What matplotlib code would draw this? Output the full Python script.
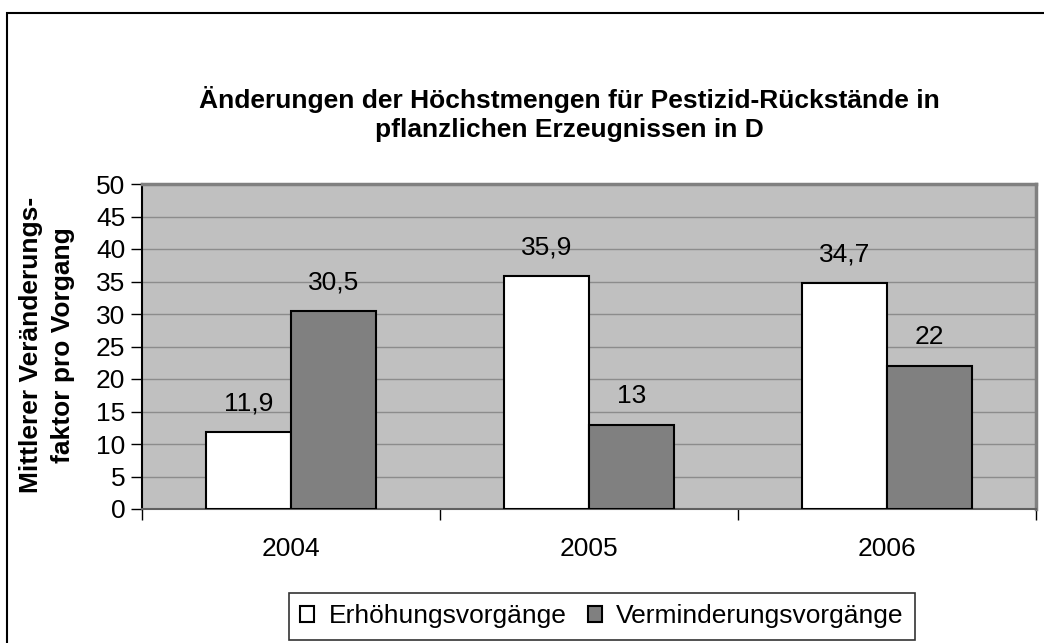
import matplotlib
matplotlib.use("Agg")
import matplotlib.pyplot as plt
from matplotlib.patches import Rectangle
import numpy as np

plt.rcParams['font.family'] = ['Liberation Sans', 'DejaVu Sans']

categories = ["2004", "2005", "2006"]
erhoehung = [11.9, 35.9, 34.7]
verminderung = [30.5, 13.0, 22.0]
labels_e = ["11,9", "35,9", "34,7"]
labels_v = ["30,5", "13", "22"]
yticks = [0, 5, 10, 15, 20, 25, 30, 35, 40, 45, 50]

W, H = 1044, 643
fig = plt.figure(figsize=(W/100, H/100), dpi=100)
fig.patch.set_facecolor("white")

# outer chart frame (right/bottom run off the image)
fig.patches.append(Rectangle((7/W, -0.1), 1.2, 1 - 13/H + 0.1, transform=fig.transFigure,
                             fill=False, edgecolor="black", linewidth=1.5))

left, right, top, bottom = 142, 1036, 184, 509
ax = fig.add_axes([left/W, 1 - bottom/H, (right-left)/W, (bottom-top)/H])
ax.set_facecolor("#C0C0C0")

FS = 19

x = np.arange(len(categories))
bw = 0.285
b1 = ax.bar(x - bw/2, erhoehung, bw, color="white", edgecolor="black", linewidth=1.5,
            label="Erhöhungsvorgänge", zorder=3)
b2 = ax.bar(x + bw/2, verminderung, bw, color="#808080", edgecolor="black", linewidth=1.5,
            label="Verminderungsvorgänge", zorder=3)

for rect, lab in zip(b1, labels_e):
    ax.text(rect.get_x() + rect.get_width()/2, rect.get_height() + 4.4, lab,
            ha="center", va="center", fontsize=FS)
for rect, lab in zip(b2, labels_v):
    ax.text(rect.get_x() + rect.get_width()/2, rect.get_height() + 4.4, lab,
            ha="center", va="center", fontsize=FS)

ax.set_xlim(-0.5, 2.5)
ax.set_ylim(0, 50)
ax.set_yticks(yticks)
ax.set_yticklabels([str(v) for v in yticks], fontsize=FS)
ax.yaxis.grid(True, color="#8c8c8c", linewidth=1.0, zorder=0)
ax.set_axisbelow(True)

ax.set_xticks(x)
ax.set_xticklabels(categories, fontsize=FS)
ax.tick_params(axis="x", length=0, pad=20)
ax.set_xticks([-0.5, 0.5, 1.5, 2.5], minor=True)
ax.tick_params(axis="x", which="minor", length=8, width=1, color="black", direction="out")
ax.tick_params(axis="y", length=8, width=1, direction="out", pad=4)

for s in ["top", "right"]:
    ax.spines[s].set_color("#808080")
    ax.spines[s].set_linewidth(2.5)
ax.spines["left"].set_color("black")
ax.spines["left"].set_linewidth(1.5)
ax.spines["bottom"].set_color("#606060")
ax.spines["bottom"].set_linewidth(1.5)

fig.text(569/W, 1 - 114/H, "Änderungen der Höchstmengen für Pestizid-Rückstände in\npflanzlichen Erzeugnissen in D",
         ha="center", va="center", fontsize=FS, fontweight="bold", linespacing=1.25)

fig.text(47/W, 1 - 345/H, "Mittlerer Veränderungs-\nfaktor pro Vorgang", rotation=90,
         ha="center", va="center", fontsize=FS, fontweight="bold", linespacing=1.4)

leg = fig.legend(handles=[b1, b2], loc="center", bbox_to_anchor=(602/W, 1 - 616.5/H),
                 ncol=2, fontsize=FS, frameon=True, fancybox=False, edgecolor="black",
                 handlelength=0.53, handleheight=0.53, handletextpad=0.55, columnspacing=0.8,
                 borderpad=0.42, borderaxespad=0)
leg.get_frame().set_linewidth(1.2)

fig.savefig("out.png", dpi=100)
